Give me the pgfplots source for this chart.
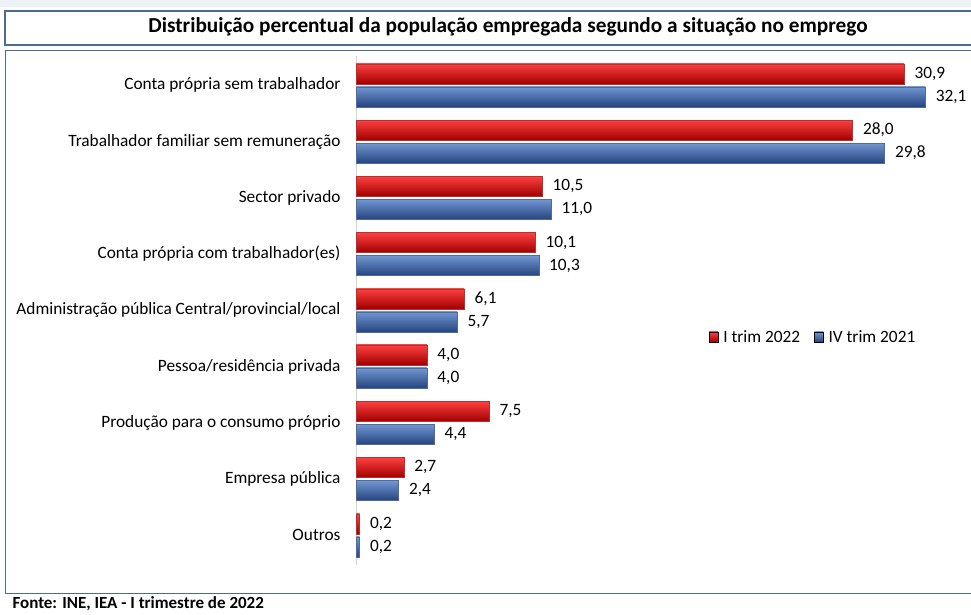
\documentclass[border=0pt]{standalone}
\usepackage{fontspec}
\setmainfont{Carlito}
\usepackage{pgfplots}
\pgfplotsset{compat=1.18}
\definecolor{frame}{HTML}{4A6A9A}
\definecolor{rtop}{HTML}{FF4040}
\definecolor{rmid}{HTML}{E00A14}
\definecolor{rbot}{HTML}{A00000}
\definecolor{btop}{HTML}{7196D2}
\definecolor{bmid}{HTML}{476DAE}
\definecolor{bbot}{HTML}{25457E}
\definecolor{topbg}{HTML}{EEF2F8}
\pgfplotsset{
  redbar/.style={forget plot, bar shift=11.5pt, draw=rbot!80, line width=0.3pt, top color=rtop, middle color=rmid, bottom color=rbot},
  bluebar/.style={forget plot, bar shift=-11.5pt, draw=bbot!80, line width=0.3pt, top color=btop, middle color=bmid, bottom color=bbot},
}
\begin{document}
\begin{tikzpicture}[x=1pt,y=1pt]
\clip (0,0) rectangle (971,-614);
\fill[white] (0,0) rectangle (971,-614);
\fill[topbg] (0,0) rectangle (971,-7);
\draw[frame, line width=1.2pt] (5,-11) rectangle (990,-45);
\node[font=\fontsize{21.3}{24}\selectfont\bfseries] at (508,-27) {Distribuição percentual da população empregada segundo a situação no emprego};
\draw[frame, line width=1pt] (5,-50) rectangle (990,-593);
\node[anchor=base west, font=\fontsize{17}{19}\selectfont\bfseries] at (9,-608) {Fonte: INE, IEA - I trimestre de 2022};
\begin{axis}[
  at={(356pt,-565pt)}, anchor=south west,
  scale only axis, width=603pt, height=509pt,
  xmin=0, xmax=34, ymin=-0.52, ymax=8.53,
  y dir=reverse,
  xbar, bar width=20pt,
  axis x line=none,
  axis y line*=left,
  y axis line style={draw=gray!35, line width=1pt, -},
  ytick={0,...,8},
  yticklabels={Conta própria sem trabalhador, Trabalhador familiar sem remuneração, Sector privado, Conta própria com trabalhador(es), Administração pública Central/provincial/local, Pessoa/residência privada, Produção para o consumo próprio, Empresa pública, Outros},
  major tick length=0pt,
  yticklabel style={font=\fontsize{17.3}{19}\selectfont, xshift=-12pt},
  nodes near coords,
  nodes near coords style={font=\fontsize{17.3}{19}\selectfont, text=black, anchor=west, xshift=7pt,
     /pgf/number format/.cd, fixed, fixed zerofill, precision=1, use comma, assume math mode=true},
  legend style={at={(0.580,0.448)}, anchor=west, draw=none, fill=none, font=\fontsize{17.3}{19}\selectfont, legend columns=2, /tikz/every even column/.append style={column sep=12pt}},
  legend image code/.code={\fill[#1] (0pt,-5pt) rectangle (9pt,5pt); \path (12pt,0pt);},
]
\addlegendimage{top color=rtop, middle color=rmid, bottom color=rbot}
\addlegendentry{I trim 2022}
\addlegendimage{top color=btop, middle color=bmid, bottom color=bbot}
\addlegendentry{IV trim 2021}
% I trim 2022
\addplot[redbar] coordinates {(30.9,0)};
\addplot[redbar] coordinates {(28.0,1)};
\addplot[redbar] coordinates {(10.5,2)};
\addplot[redbar] coordinates {(10.1,3)};
\addplot[redbar] coordinates {(6.1,4)};
\addplot[redbar] coordinates {(4.0,5)};
\addplot[redbar] coordinates {(7.5,6)};
\addplot[redbar] coordinates {(2.7,7)};
\addplot[redbar] coordinates {(0.2,8)};
% IV trim 2021
\addplot[bluebar] coordinates {(32.1,0)};
\addplot[bluebar] coordinates {(29.8,1)};
\addplot[bluebar] coordinates {(11.0,2)};
\addplot[bluebar] coordinates {(10.3,3)};
\addplot[bluebar] coordinates {(5.7,4)};
\addplot[bluebar] coordinates {(4.0,5)};
\addplot[bluebar] coordinates {(4.4,6)};
\addplot[bluebar] coordinates {(2.4,7)};
\addplot[bluebar] coordinates {(0.2,8)};
\end{axis}
\end{tikzpicture}
\end{document}
